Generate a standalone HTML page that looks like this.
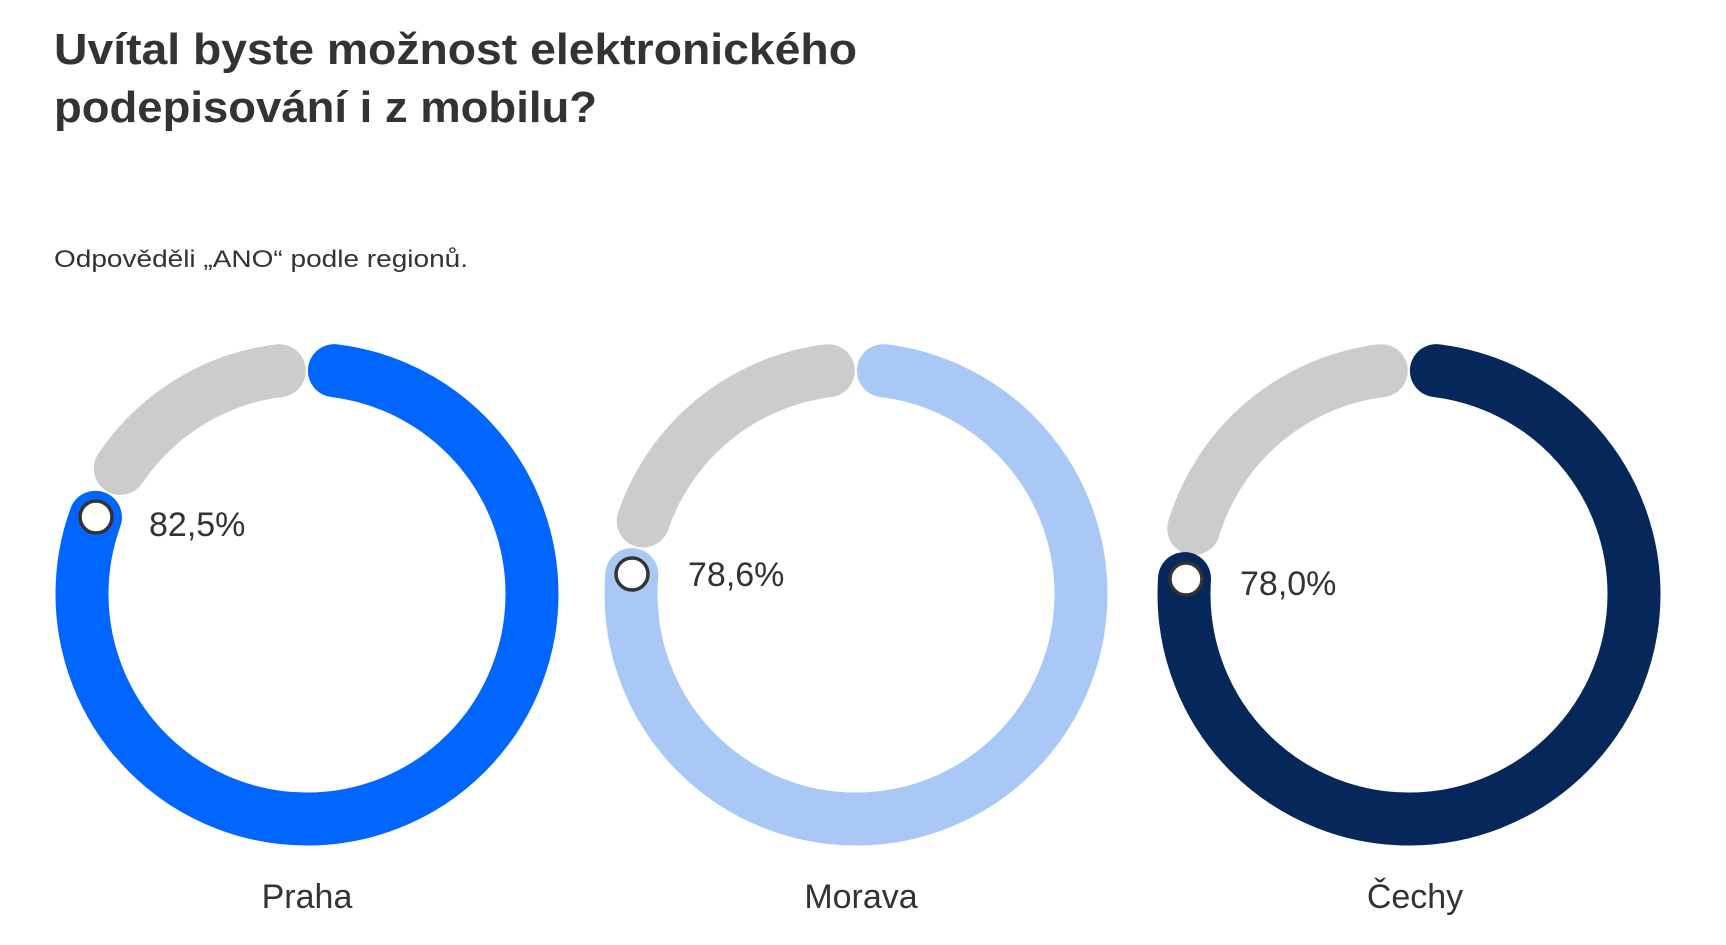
<!DOCTYPE html>
<html><head><meta charset="utf-8"><style>
html,body{margin:0;padding:0;background:#fff;}
svg{display:block}
</style></head><body>
<svg width="1726" height="945" viewBox="0 0 1726 945" xmlns="http://www.w3.org/2000/svg">
<g font-family="'Liberation Sans', sans-serif" fill="#333">
<text x="54" y="64" font-size="44" font-weight="bold" textLength="803" lengthAdjust="spacingAndGlyphs">Uvítal byste možnost elektronického</text>
<text x="54" y="122" font-size="44" font-weight="bold" textLength="543" lengthAdjust="spacingAndGlyphs">podepisování i z mobilu?</text>
<text x="54" y="267" font-size="24" textLength="414" lengthAdjust="spacingAndGlyphs">Odpověděli „ANO“ podle regionů.</text>
</g>
<g fill="none" stroke-width="53" stroke-linecap="round">
<g transform="translate(307,594) rotate(-90)">
<circle r="225" pathLength="360" stroke="#cccccc" stroke-dasharray="49 400" stroke-dashoffset="-304"/>
<circle r="225" pathLength="360" stroke="#0066ff" stroke-dasharray="283 400" stroke-dashoffset="-7"/>
</g>
<g transform="translate(856,594) rotate(-90)">
<circle r="225" pathLength="360" stroke="#cccccc" stroke-dasharray="64 400" stroke-dashoffset="-289"/>
<circle r="225" pathLength="360" stroke="#a9c8f5" stroke-dasharray="268 400" stroke-dashoffset="-7"/>
</g>
<g transform="translate(1409,594) rotate(-90)">
<circle r="225" pathLength="360" stroke="#cccccc" stroke-dasharray="66 400" stroke-dashoffset="-287"/>
<circle r="225" pathLength="360" stroke="#052759" stroke-dasharray="267 400" stroke-dashoffset="-7"/>
</g>
</g>
<g fill="#fff" stroke="#333" stroke-width="3.5">
<circle cx="96" cy="517" r="16"/>
<circle cx="632" cy="574" r="16"/>
<circle cx="1186" cy="579" r="16"/>
</g>
<g font-family="'Liberation Sans', sans-serif" fill="#333" font-size="34">
<text x="149" y="536">82,5%</text>
<text x="688" y="586">78,6%</text>
<text x="1240" y="595">78,0%</text>
<text x="307" y="908" text-anchor="middle">Praha</text>
<text x="861" y="908" text-anchor="middle">Morava</text>
<text x="1415" y="908" text-anchor="middle">Čechy</text>
</g>
</svg>
</body></html>
